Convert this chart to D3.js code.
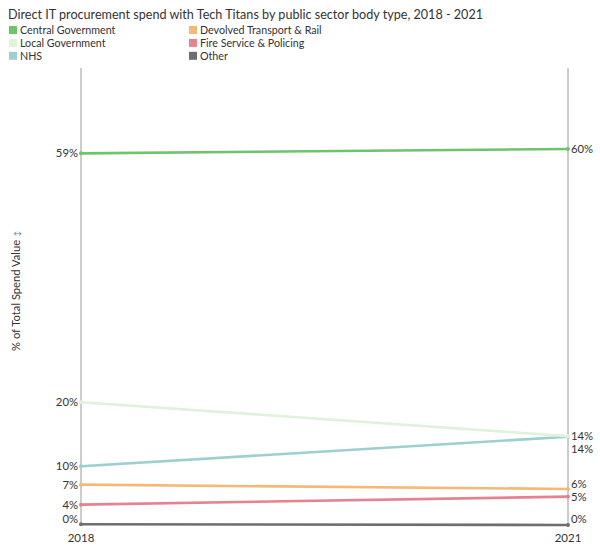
<!DOCTYPE html>
<html><head><meta charset="utf-8">
<script src="https://cdn.jsdelivr.net/npm/d3@7"></script>
<style>
body{margin:0;background:#fff;}
text{font-family:Lato,"Open Sans",sans-serif;fill:#333;}
</style></head><body>
<svg id="chart" width="600" height="550"></svg>
<script>
const title = "Direct IT procurement spend with Tech Titans by public sector body type, 2018 - 2021";
const years = ["2018", "2021"];
const seriesNames = ["Central Government","Local Government","NHS","Devolved Transport & Rail","Fire Service & Policing","Other"];
const seriesColors = ["#6cc46c","#e1f1dc","#9ecfcf","#f5b877","#e8818f","#6e6e6e"];
const values2018 = [58.85, 19.64, 9.56, 6.66, 3.51, 0.43];
const values2021 = [59.55, 14.3, 14.2, 5.98, 4.77, 0.3];
const yDomain = [0.3, 72.3];
const yAxisTitle = "% of Total Spend Value";

const svg = d3.select("#chart");
const x = d3.scalePoint().domain(years).range([81, 568]);
const y = d3.scaleLinear().domain(yDomain).range([525, 68]);

svg.append("text").attr("x", 8).attr("y", 18.5).attr("font-size", 12.6).text(title);

// legend
const legendCols = [9, 189];
seriesNames.forEach((name, i) => {
  const col = Math.floor(i / 3), row = i % 3;
  const g = svg.append("g").attr("transform", `translate(${legendCols[col]},${30 + row * 12.9})`);
  g.append("rect").attr("x", 0).attr("y", -4).attr("width", 8).attr("height", 8).attr("fill", seriesColors[i]);
  g.append("text").attr("x", 11).attr("y", 4).attr("font-size", 10.7).text(name);
});

// axes (vertical lines)
years.forEach(yr => {
  svg.append("line").attr("x1", x(yr)).attr("x2", x(yr))
    .attr("y1", y.range()[1]).attr("y2", y.range()[0])
    .attr("stroke", "#9a9a9a").attr("stroke-width", 1);
  svg.append("text").attr("x", x(yr)).attr("y", 542).attr("text-anchor", "middle")
    .attr("font-size", 11.5).text(yr);
});

// y axis title
const yt = svg.append("text").attr("transform", "translate(20,291) rotate(-90)")
  .attr("text-anchor", "middle").attr("font-size", 11.2);
yt.append("tspan").text(yAxisTitle + " ");
yt.append("tspan").attr("font-size", 8).style("fill", "#5a7894").text("↕");

// lines
const data = seriesNames.map((n, i) => ({name: n, color: seriesColors[i], vals: [values2018[i], values2021[i]]}));
const line = d3.line().x((d, j) => x(years[j])).y(d => y(d));
data.slice().reverse().forEach(d => {
  svg.append("path").attr("d", line(d.vals)).attr("fill", "none")
    .attr("stroke", d.color).attr("stroke-width", 2.6);
  d.vals.forEach((v, j) => {
    svg.append("circle").attr("cx", x(years[j])).attr("cy", y(v)).attr("r", 2).attr("fill", d.color);
  });
});

// labels with collision avoidance
function placeLabels(vals, gap, maxY) {
  const items = vals.map((v, i) => ({i, v, y: Math.min(y(v), maxY)}));
  items.sort((a, b) => a.y - b.y || b.v - a.v);
  for (let k = 1; k < items.length; k++) {
    if (items[k].y < items[k - 1].y + gap) {
      const need = items[k - 1].y + gap - items[k].y;
      if (items[k].v !== items[k - 1].v && Math.round(items[k].v) !== Math.round(items[k - 1].v)) {
        items[k - 1].y -= need;
      } else {
        items[k].y += need;
      }
    }
  }
  return items;
}
[values2018, values2021].forEach((vals, j) => {
  const items = placeLabels(vals, 13, 519);
  items.forEach(it => {
    svg.append("text")
      .attr("x", j === 0 ? x(years[0]) - 3 : x(years[1]) + 3)
      .attr("y", it.y).attr("dy", "0.35em")
      .attr("text-anchor", j === 0 ? "end" : "start")
      .attr("font-size", 11.3)
      .text(Math.round(it.v) + "%");
  });
});
</script></body></html>
